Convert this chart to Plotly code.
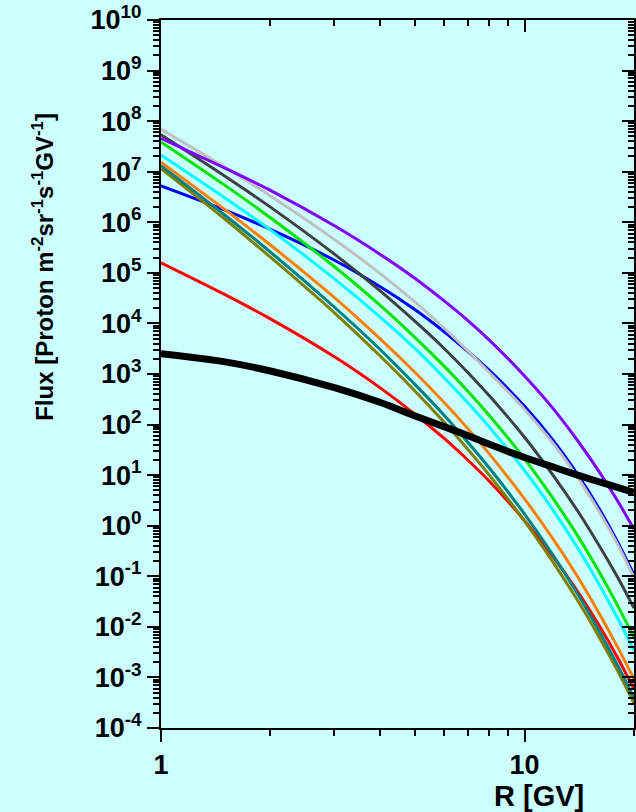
import math
import plotly.graph_objects as go

# Rigidity grid [GV]
R_GV = [1, 1.5, 2, 3, 4, 5, 6, 7, 8, 10, 12, 14, 16, 18, 20]

# log10 of flux values
flux_purple = [7.66, 7.07, 6.63, 5.93, 5.37, 4.89, 4.45, 4.05, 3.67, 2.96, 2.31, 1.68, 1.08, 0.50, -0.07]
flux_silver = [7.84, 7.09, 6.52, 5.66, 4.99, 4.42, 3.91, 3.45, 3.03, 2.30, 1.62, 0.95, 0.29, -0.36, -1.03]
flux_darkgray = [7.73, 6.91, 6.30, 5.37, 4.65, 4.04, 3.51, 3.02, 2.57, 1.75, 0.99, 0.29, -0.38, -1.01, -1.63]
flux_blue = [6.72, 6.24, 5.86, 5.25, 4.73, 4.27, 3.84, 3.44, 3.07, 2.36, 1.68, 1.01, 0.35, -0.31, -0.97]
flux_green = [7.59, 6.73, 6.09, 5.12, 4.36, 3.72, 3.16, 2.65, 2.18, 1.32, 0.53, -0.20, -0.90, -1.57, -2.21]
flux_cyan = [7.33, 6.48, 5.85, 4.88, 4.13, 3.50, 2.93, 2.42, 1.95, 1.09, 0.30, -0.44, -1.15, -1.82, -2.47]
flux_orange = [7.19, 6.25, 5.55, 4.51, 3.70, 3.03, 2.44, 1.91, 1.42, 0.53, -0.27, -1.01, -1.72, -2.39, -3.03]
flux_teal = [7.12, 6.14, 5.41, 4.32, 3.49, 2.79, 2.19, 1.64, 1.14, 0.23, -0.59, -1.35, -2.07, -2.75, -3.41]
flux_olive = [7.06, 6.06, 5.31, 4.21, 3.36, 2.66, 2.05, 1.50, 1.00, 0.09, -0.73, -1.48, -2.19, -2.86, -3.51]
flux_red = [5.20, 4.57, 4.09, 3.34, 2.73, 2.20, 1.73, 1.29, 0.88, 0.10, -0.62, -1.30, -1.96, -2.60, -3.23]
flux_black = [3.40, 3.24, 3.06, 2.73, 2.44, 2.17, 1.96, 1.78, 1.61, 1.35, 1.16, 1.00, 0.87, 0.76, 0.66]

# axis tick labels
x_tickvals = [1, 10]
x_ticktext = ["1", "10"]
y_exponents = list(range(-4, 11))
y_tickvals = [10.0 ** e for e in y_exponents]
y_ticktext = ["10<sup>%d</sup>" % e for e in y_exponents]

x_title = "R [GV]"
y_title = "Flux [Proton m<sup>-2</sup>sr<sup>-1</sup>s<sup>-1</sup>GV<sup>-1</sup>]"

series = [
    ("red", "#FF0000", flux_red),
    ("blue", "#0000FF", flux_blue),
    ("olive", "#808000", flux_olive),
    ("teal", "#008080", flux_teal),
    ("orange", "#FF8000", flux_orange),
    ("cyan", "#00FFFF", flux_cyan),
    ("green", "#00E600", flux_green),
    ("darkgray", "#404040", flux_darkgray),
    ("silver", "#C0C0C0", flux_silver),
    ("purple", "#8000FF", flux_purple),
]

fig = go.Figure()
for name, color, vals in series:
    fig.add_trace(go.Scatter(
        x=R_GV, y=[10 ** v for v in vals], mode="lines", name=name,
        line=dict(color=color, width=3, shape="spline", smoothing=0.8),
        showlegend=False, hoverinfo="skip"))

fig.add_trace(go.Scatter(
    x=R_GV, y=[10 ** v for v in flux_black], mode="lines", name="black",
    xaxis="x2", yaxis="y2",
    line=dict(color="black", width=7, shape="spline", smoothing=0.8),
    showlegend=False, hoverinfo="skip"))

xr = [0, math.log10(20)]
yr = [-4, 10]
x_minor = [2, 3, 4, 5, 6, 7, 8, 9, 20]
y_minor = [m * 10.0 ** e for e in range(-4, 10) for m in range(2, 10)]

bg = "#CCFFFF"
common = dict(showgrid=False, zeroline=False, showline=True, linecolor="black",
              linewidth=2, tickcolor="black", tickwidth=2, automargin=False)

fig.update_layout(
    width=636, height=812,
    margin=dict(l=161, r=2, t=20, b=84),
    paper_bgcolor=bg, plot_bgcolor=bg,
    showlegend=False,
    font=dict(family="Liberation Sans, Arial, sans-serif", size=27, color="black", weight="bold"),
    xaxis=dict(type="log", range=xr, ticks="outside", ticklen=12,
               tickvals=x_tickvals, ticktext=x_ticktext, ticklabelstandoff=0,
               minor=dict(tickvals=x_minor, ticks="outside", ticklen=6, tickwidth=2,
                          tickcolor="black", showgrid=False),
               **common),
    xaxis2=dict(type="log", range=xr, overlaying="x", side="top", ticks="inside",
                ticklen=12, tickvals=x_tickvals, showticklabels=False,
                minor=dict(tickvals=x_minor, ticks="inside", ticklen=6, tickwidth=2,
                           tickcolor="black", showgrid=False),
                **common),
    yaxis=dict(type="log", range=yr, ticks="outside", ticklen=12,
               tickvals=y_tickvals, ticktext=y_ticktext,
               minor=dict(tickvals=y_minor, ticks="outside", ticklen=6, tickwidth=2,
                          tickcolor="black", showgrid=False),
               **common),
    yaxis2=dict(type="log", range=yr, overlaying="y", side="right", ticks="inside",
                ticklen=12, tickvals=y_tickvals, showticklabels=False,
                minor=dict(tickvals=y_minor, ticks="inside", ticklen=6, tickwidth=2,
                           tickcolor="black", showgrid=False),
                **common),
    annotations=[
        dict(text=x_title, xref="paper", yref="paper", x=0.80, y=-0.096,
             xanchor="center", yanchor="middle", showarrow=False,
             font=dict(size=29, weight="bold")),
        dict(text=y_title, xref="paper", yref="paper", x=-0.25, y=0.651,
             xanchor="center", yanchor="middle", textangle=-90, showarrow=False,
             font=dict(size=24, weight="bold")),
    ],
)

fig.write_html("out.html", config={"displayModeBar": False},
               post_script="document.body.style.margin='0';document.body.style.overflow='hidden';")
